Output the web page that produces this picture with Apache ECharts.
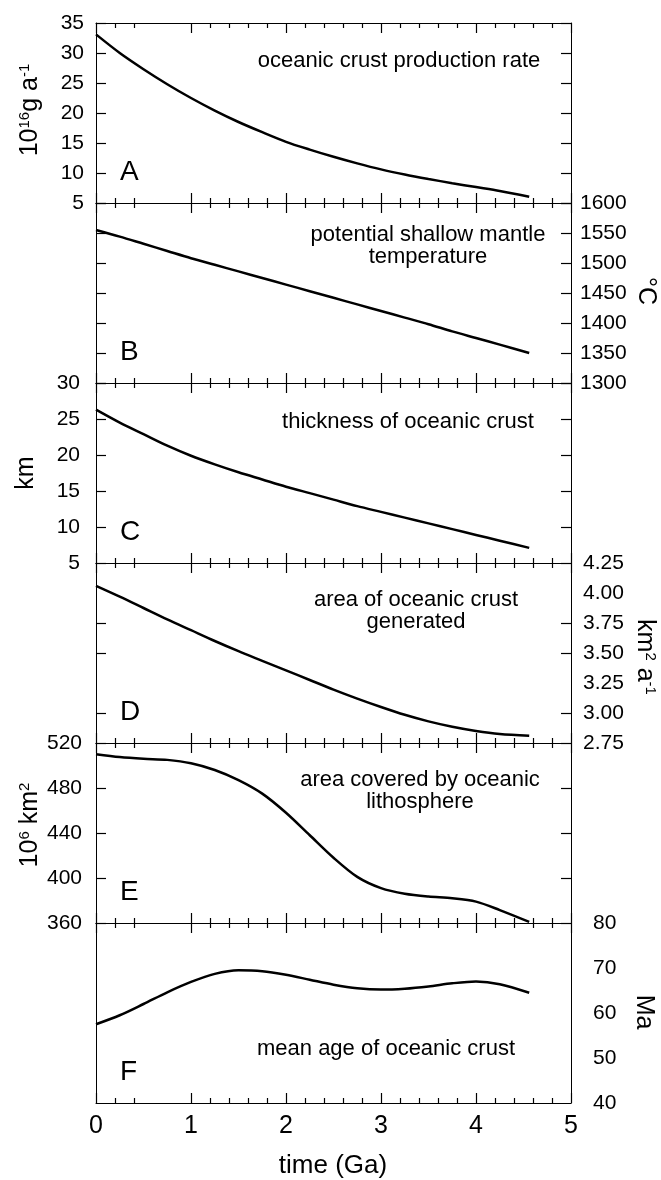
<!DOCTYPE html>
<html>
<head>
<meta charset="utf-8">
<script src="https://cdn.jsdelivr.net/npm/echarts@6/dist/echarts.min.js"></script>
<style>
  html, body { margin: 0; padding: 0; background: #fff; }
  #chart { width: 661px; height: 1180px; }
</style>
</head>
<body>
<div id="chart"></div>
<script>
// Time axis (Ga) shared by all six panels
const timeGa = [0, 0.25, 0.5, 0.75, 1, 1.25, 1.5, 1.75, 2, 2.25, 2.5, 2.75, 3, 3.25, 3.5, 3.75, 4, 4.25, 4.56];

// A: oceanic crust production rate (10^16 g/a)
const crustProductionRate = [33.1, 30.0, 27.3, 24.8, 22.5, 20.4, 18.5, 16.8, 15.2, 13.9, 12.7, 11.6, 10.6, 9.75, 9.0, 8.3, 7.65, 7.0, 6.05];
// B: potential shallow mantle temperature (°C)
const mantleTemperature = [1555, 1544, 1532, 1520, 1508, 1497, 1486, 1475, 1464, 1453, 1442, 1431, 1420, 1409, 1398, 1386, 1375, 1364, 1350];
// C: thickness of oceanic crust (km)
const crustThickness = [26.3, 24.5, 22.9, 21.3, 19.9, 18.7, 17.6, 16.6, 15.6, 14.7, 13.8, 12.9, 12.1, 11.3, 10.5, 9.7, 8.9, 8.1, 7.1];
// D: area of oceanic crust generated (km^2/a)
const crustAreaGenerated = [4.06, 3.97, 3.875, 3.78, 3.69, 3.60, 3.515, 3.435, 3.355, 3.275, 3.195, 3.12, 3.05, 2.985, 2.93, 2.885, 2.85, 2.825, 2.81];
// E: area covered by oceanic lithosphere (10^6 km^2)
const lithosphereArea = [510, 507.5, 506, 505, 502, 496, 487, 475, 458, 438, 418, 401, 391, 386, 383.5, 382, 379, 371.5, 361];
// F: mean age of oceanic crust (Ma)
const meanCrustAge = [57.5, 59.5, 62.0, 64.6, 66.9, 68.7, 69.5, 69.3, 68.5, 67.4, 66.3, 65.5, 65.2, 65.4, 65.9, 66.6, 67.0, 66.4, 64.5];

// Minor tick positions on the time axis (none at 0.6 and 0.8)
const timeMinorTicks = [0.2, 0.4, 1.2, 1.4, 1.6, 1.8, 2.2, 2.4, 2.6, 2.8, 3.2, 3.4, 3.6, 3.8, 4.2, 4.4, 4.6, 4.8];

const FONT = '"Liberation Sans", Arial, Helvetica, sans-serif';
const BLACK = '#000';

// Panel layout (pixels) and value-axis settings
const PLOT_LEFT = 96, PLOT_RIGHT = 90, PANEL_TOP = 23, PANEL_H = 180;
const panels = [
  { data: crustProductionRate, min: 5, max: 35, interval: 5, labelSide: 'left', margin: 12 },
  { data: mantleTemperature, min: 1300, max: 1600, interval: 50, labelSide: 'right', margin: 9 },
  { data: crustThickness, min: 5, max: 30, interval: 5, labelSide: 'left', margin: 16 },
  { data: crustAreaGenerated, min: 2.75, max: 4.25, interval: 0.25, labelSide: 'right', margin: 12, decimals: 2, tickValues: [3.0, 3.5, 3.75] },
  { data: lithosphereArea, min: 360, max: 520, interval: 40, labelSide: 'left', margin: 14 },
  { data: meanCrustAge, min: 40, max: 80, interval: 10, labelSide: 'right', margin: 22, tickValues: [] }
];

const grids = [], xAxes = [], yAxes = [], series = [];

panels.forEach((p, i) => {
  grids.push({ left: PLOT_LEFT, right: PLOT_RIGHT, top: PANEL_TOP + i * PANEL_H, height: PANEL_H, containLabel: false });
  const last = i === panels.length - 1;

  ['bottom', 'top'].forEach(pos => {
    // major time ticks, carrying the axis line
    xAxes.push({
      type: 'value', gridIndex: i, position: pos, min: 0, max: 5, interval: 1,
      axisLine: { show: true, onZero: false, lineStyle: { color: BLACK, width: 1 } },
      axisTick: { show: true, inside: true, length: 10, lineStyle: { color: BLACK, width: 1.2 } },
      axisLabel: { show: last && pos === 'bottom', color: BLACK, fontSize: 25, fontFamily: FONT, margin: 11 },
      splitLine: { show: false }
    });
    // minor time ticks
    xAxes.push({
      type: 'value', gridIndex: i, position: pos, min: 0, max: 5,
      axisLine: { show: false, onZero: false },
      axisTick: { show: true, inside: true, length: 5, customValues: timeMinorTicks, lineStyle: { color: BLACK, width: 1.2 } },
      axisLabel: { show: false },
      splitLine: { show: false }
    });
  });

  ['left', 'right'].forEach(pos => {
    const tick = { show: true, inside: true, length: 10, lineStyle: { color: BLACK, width: 1.2 } };
    if (p.tickValues) {
      if (p.tickValues.length) tick.customValues = p.tickValues; else tick.show = false;
    }
    yAxes.push({
      type: 'value', gridIndex: i, position: pos, min: p.min, max: p.max, interval: p.interval,
      axisLine: { show: true, onZero: false, lineStyle: { color: BLACK, width: 1 } },
      axisTick: tick,
      axisLabel: {
        show: p.labelSide === pos, color: BLACK, fontSize: 21, fontFamily: FONT, margin: p.margin,
        showMinLabel: true, showMaxLabel: true,
        formatter: v => p.decimals ? v.toFixed(p.decimals) : String(v)
      },
      splitLine: { show: false }
    });
  });

  series.push({
    type: 'line', xAxisIndex: i * 4, yAxisIndex: i * 2,
    data: timeGa.map((t, k) => [t, p.data[k]]),
    showSymbol: false, smooth: 0.3, silent: true,
    lineStyle: { color: BLACK, width: 2.5 }
  });
});

// Panel captions, panel letters and axis titles
function caption(text, x, y) {
  return { type: 'text', x, y, style: { text, fill: BLACK, font: '22px ' + FONT, align: 'center', verticalAlign: 'middle' } };
}
function letter(text, i) {
  return { type: 'text', x: 120, y: PANEL_TOP + (i + 1) * PANEL_H - 31,
    style: { text, fill: BLACK, font: '28px ' + FONT, align: 'left', verticalAlign: 'middle' } };
}
const supRich = {
  b: { fontSize: 25, fontFamily: FONT, fill: BLACK, verticalAlign: 'bottom' },
  s: { fontSize: 15, fontFamily: FONT, fill: BLACK, verticalAlign: 'top' }
};
function axisTitle(text, x, y, rotation) {
  return { type: 'text', x, y, rotation,
    style: { text, rich: supRich, align: 'center', verticalAlign: 'middle', fill: BLACK, font: '25px ' + FONT } };
}

const graphics = [
  caption('oceanic crust production rate', 399, 61),
  caption('potential shallow mantle', 428, 235),
  caption('temperature', 428, 257),
  caption('thickness of oceanic crust', 408, 422),
  caption('area of oceanic crust', 416, 600),
  caption('generated', 416, 622),
  caption('area covered by oceanic', 420, 780),
  caption('lithosphere', 420, 802),
  caption('mean age of oceanic crust', 386, 1049),
  letter('A', 0), letter('B', 1), letter('C', 2), letter('D', 3), letter('E', 4), letter('F', 5),
  axisTitle('{b|10}{s|16}{b|g a}{s|-1}', 30, 110, Math.PI / 2),
  axisTitle('{b|km}', 26, 473, Math.PI / 2),
  axisTitle('{b|10}{s|6}{b| km}{s|2}', 30, 825, Math.PI / 2),
  axisTitle('{b|°C}', 646, 291, -Math.PI / 2),
  axisTitle('{b|km}{s|2}{b| a}{s|-1}', 645, 657, -Math.PI / 2),
  axisTitle('{b|Ma}', 644, 1012, -Math.PI / 2),
  { type: 'text', x: 333, y: 1166, style: { text: 'time (Ga)', fill: BLACK, font: '26px ' + FONT, align: 'center', verticalAlign: 'middle' } }
];

const chart = echarts.init(document.getElementById('chart'), null, { renderer: 'canvas', width: 661, height: 1180 });
chart.setOption({
  backgroundColor: '#fff',
  animation: false,
  grid: grids,
  xAxis: xAxes,
  yAxis: yAxes,
  series,
  graphic: graphics
});
</script>
</body>
</html>
